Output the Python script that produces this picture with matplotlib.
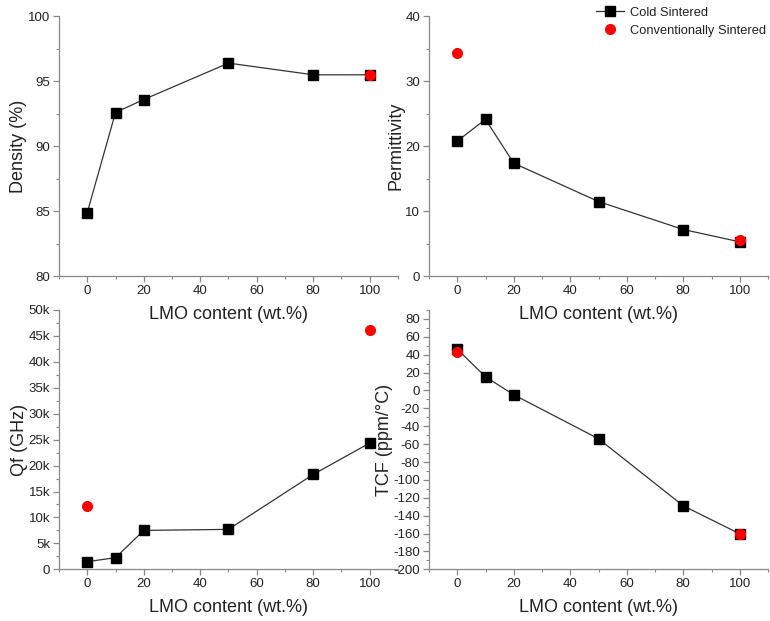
import matplotlib
matplotlib.use("Agg")
import matplotlib.pyplot as plt
from matplotlib.ticker import MultipleLocator, FuncFormatter
from matplotlib.lines import Line2D

plt.rcParams['font.family'] = ['Liberation Sans', 'DejaVu Sans']
plt.rcParams['axes.unicode_minus'] = False

x_cold = [0, 10, 20, 50, 80, 100]
density_cold = [84.9, 92.6, 93.6, 96.4, 95.5, 95.5]
perm_cold = [20.8, 24.15, 17.4, 11.5, 7.2, 5.3]
qf_cold = [1470, 2240, 7500, 7700, 18300, 24350]
tcf_cold = [46.2, 15.3, -4.8, -54, -129, -160.3]

x_conv_density = [100]
density_conv = [95.5]
x_conv = [0, 100]
perm_conv = [34.4, 5.6]
qf_conv = [12300, 46100]
tcf_conv = [42.5, -160]

W, H = 770, 621
fig = plt.figure(figsize=(W / 100, H / 100), dpi=100)

def ax_at(x0, y0, x1, y1):
    a = fig.add_axes([x0 / W, 1 - y1 / H, (x1 - x0) / W, (y1 - y0) / H])
    a.patch.set_alpha(0)
    return a

axes = [
    ax_at(59, 16.3, 398, 276.3),
    ax_at(429, 16.3, 768, 276.3),
    ax_at(59, 310, 398, 569.3),
    ax_at(429, 310, 768, 569.3),
]

spine_c = '#888888'
text_c = '#222222'

def style(ax, ylim, ymaj, ymin, ylabel):
    ax.set_xlim(-10, 110)
    ax.set_ylim(*ylim)
    ax.xaxis.set_major_locator(MultipleLocator(20))
    ax.xaxis.set_minor_locator(MultipleLocator(10))
    ax.yaxis.set_major_locator(MultipleLocator(ymaj))
    ax.yaxis.set_minor_locator(MultipleLocator(ymin))
    for s in ['top', 'right']:
        ax.spines[s].set_visible(False)
    for s in ['left', 'bottom']:
        ax.spines[s].set_color(spine_c)
        ax.spines[s].set_linewidth(0.9)
    ax.tick_params(which='major', direction='out', length=4.5, width=0.9, pad=2,
                   color=spine_c, labelsize=9.5, labelcolor=text_c)
    ax.tick_params(which='minor', direction='out', length=2.5, width=0.8, color=spine_c)
    ax.set_xlabel('LMO content (wt.%)', fontsize=13, color=text_c, labelpad=6)
    ax.set_ylabel(ylabel, fontsize=13, color=text_c, labelpad=0.5)

def plot_cold(ax, y):
    ax.plot(x_cold, y, color='#333333', lw=0.9, marker='s', ms=6.5,
            mfc='black', mec='black', zorder=3)

def plot_conv(ax, x, y):
    ax.plot(x, y, ls='none', marker='o', ms=7, mfc='red', mec='red', zorder=4)

plot_cold(axes[0], density_cold)
plot_conv(axes[0], x_conv_density, density_conv)
style(axes[0], (80, 100), 5, 2.5, 'Density (%)')

plot_cold(axes[1], perm_cold)
plot_conv(axes[1], x_conv, perm_conv)
style(axes[1], (0, 40), 10, 5, 'Permittivity')

plot_cold(axes[2], qf_cold)
plot_conv(axes[2], x_conv, qf_conv)
style(axes[2], (0, 50000), 5000, 2500, 'Qf (GHz)')
axes[2].yaxis.set_major_formatter(FuncFormatter(lambda v, p: '0' if v == 0 else f'{v/1000:g}k'))

plot_cold(axes[3], tcf_cold)
plot_conv(axes[3], x_conv, tcf_conv)
style(axes[3], (-200, 90), 20, 10, 'TCF (ppm/°C)')
axes[3].set_yticks(list(range(-200, 81, 20)))

handles = [
    Line2D([], [], color='#333333', lw=0.9, marker='s', ms=6.5, mfc='black', mec='black'),
    Line2D([], [], ls='none', marker='o', ms=7, mfc='red', mec='red'),
]
fig.legend(handles, ['Cold Sintered', 'Conventionally Sintered'],
           loc='upper right', bbox_to_anchor=(0.999, 0.994), frameon=False,
           fontsize=9.3, handlelength=2.2, handletextpad=0.45, labelspacing=0.45,
           borderaxespad=0, borderpad=0.25, labelcolor=text_c)

fig.savefig('out.png', dpi=100)
